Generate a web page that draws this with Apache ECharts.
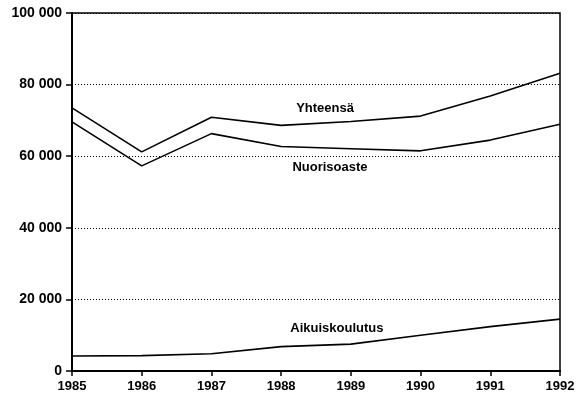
<!DOCTYPE html>
<html>
<head>
<meta charset="utf-8">
<script src="https://cdn.jsdelivr.net/npm/echarts@6/dist/echarts.min.js"></script>
<style>
  html, body { margin: 0; padding: 0; background: #fff; }
  #chart { width: 578px; height: 402px; }
</style>
</head>
<body>
<div id="chart"></div>
<script>
const years = [1985, 1986, 1987, 1988, 1989, 1990, 1991, 1992]
const yhteensa = [73500, 61200, 70900, 68600, 69700, 71200, 76800, 83200]
const nuorisoaste = [69600, 57300, 66300, 62700, 62100, 61500, 64500, 68900]
const aikuiskoulutus = [4200, 4300, 4800, 6800, 7500, 10000, 12400, 14500]
const yTicks = [0, 20000, 40000, 60000, 80000, 100000]

const chart = echarts.init(document.getElementById('chart'))

const font = 'Liberation Sans, Arial, sans-serif'

function pairs(vals) {
  return years.map((y, i) => [y, vals[i]])
}

function lineSeries(name, vals, labelAt) {
  return {
    name,
    type: 'line',
    data: pairs(vals),
    symbol: 'none',
    lineStyle: { color: '#000', width: 1.6 },
    silent: true,
    markPoint: {
      symbol: 'circle',
      symbolSize: 0,
      silent: true,
      label: {
        show: true,
        formatter: name,
        color: '#000',
        fontFamily: font,
        fontWeight: 'bold',
        fontSize: 13,
      },
      data: [{ coord: labelAt }],
    },
  }
}

chart.setOption({
  animation: false,
  grid: {
    left: 72, right: 18, top: 13, bottom: 31,
    show: true,
    borderColor: '#000',
    borderWidth: 1.5,
  },
  xAxis: {
    type: 'value',
    min: 1985,
    max: 1992,
    interval: 1,
    axisLine: { show: true, lineStyle: { color: '#000', width: 2 } },
    axisTick: { show: true, length: 5, lineStyle: { color: '#000', width: 1.5 } },
    axisLabel: {
      color: '#000', fontFamily: font, fontWeight: 'bold', fontSize: 13, margin: 9,
      formatter: (v) => String(v),
    },
    splitLine: { show: false },
  },
  yAxis: {
    type: 'value',
    min: yTicks[0],
    max: yTicks[yTicks.length - 1],
    interval: 20000,
    axisLine: { show: true, lineStyle: { color: '#000', width: 2 } },
    axisTick: { show: true, length: 6, lineStyle: { color: '#000', width: 1.5 } },
    axisLabel: {
      color: '#000', fontFamily: font, fontWeight: 'bold', fontSize: 14, margin: 10,
      formatter: (v) => String(v).replace(/\B(?=(\d{3})+(?!\d))/g, ' '),
    },
    splitLine: { show: true, lineStyle: { color: '#000', width: 1, type: [1, 2] } },
  },
  series: [
    lineSeries('Yhteensä', yhteensa, [1988.63, 73300]),
    lineSeries('Nuorisoaste', nuorisoaste, [1988.7, 56800]),
    lineSeries('Aikuiskoulutus', aikuiskoulutus, [1988.8, 12000]),
  ],
})
</script>
</body>
</html>
